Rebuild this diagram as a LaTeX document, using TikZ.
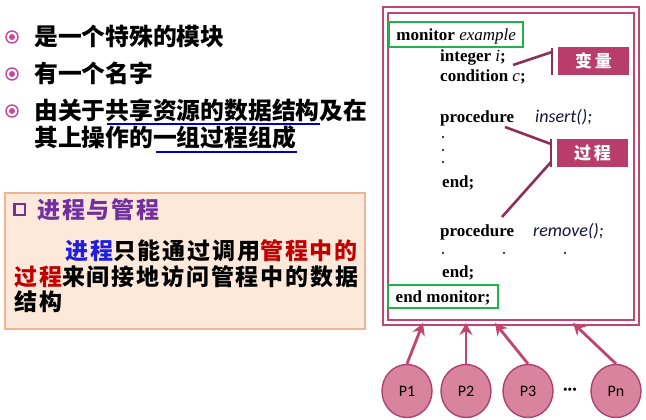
\documentclass[tikz,border=0pt]{standalone}
\usepackage{fontspec}
\setmainfont{Liberation Serif}
\newfontfamily\cjk{Noto Sans CJK SC}
\newfontfamily\cjkbox[LetterSpace=8]{Noto Sans CJK SC}
\newfontfamily\cjklab[LetterSpace=15]{Noto Sans CJK SC}
\newfontfamily\calib{Carlito}
\usetikzlibrary{arrows.meta,shapes.geometric}
\definecolor{bulletc}{HTML}{C8469B}
\definecolor{ulblue}{HTML}{0000C0}
\definecolor{peach}{HTML}{FDE9DA}
\definecolor{peachedge}{HTML}{F0B495}
\definecolor{purp}{HTML}{7030A0}
\definecolor{cblue}{HTML}{1E1EDC}
\definecolor{cred}{HTML}{C00000}
\definecolor{framec}{HTML}{C0456F}
\definecolor{grn}{HTML}{22B14C}
\definecolor{labfill}{HTML}{B83D6A}
\definecolor{brkc}{HTML}{8E2F57}
\definecolor{navy}{HTML}{14143C}
\definecolor{ellfill}{HTML}{D8849F}
\definecolor{elledge}{HTML}{B04070}
\begin{document}
\begin{tikzpicture}[x=1pt,y=-1pt,
  cjkbig/.style={font=\cjk\bfseries\fontsize{23.8}{28}\selectfont, anchor=west, inner sep=0},
  boxtxt/.style={font=\cjkbox\bfseries\fontsize{23}{26}\selectfont, anchor=west, inner sep=0},
  bul/.style={circle, draw=bulletc, line width=1.4, minimum size=12, inner sep=0,
    path picture={\fill[bulletc] (path picture bounding box.center) circle (3);}},
  code/.style={font=\bfseries\fontsize{17}{20}\selectfont, anchor=base west, inner sep=0},
  proc/.style={font=\calib\itshape\fontsize{18}{20}\selectfont, text=navy, anchor=base west, inner sep=0},
  greenbox/.style={draw=grn, line width=2.4, font=\bfseries\fontsize{17}{20}\selectfont, inner sep=0, text height=12.5, text depth=0},
  lab/.style={fill=labfill, text=white, font=\cjklab\bfseries\fontsize{17}{20}\selectfont, minimum width=71, minimum height=28, inner sep=0},
  brk/.style={draw=brkc, line width=2.6},
  frame/.style={draw=framec, line width=1.8},
  proc node/.style={ellipse, fill=ellfill, draw=elledge, line width=1.4, minimum width=50, minimum height=53, inner sep=0, font=\calib\fontsize{16}{18}\selectfont},
  arr/.style={draw=framec, line width=2.8, -{Stealth[length=12,width=13,inset=4]}},
  codedot/.style={circle, fill=black, minimum size=2.3, inner sep=0}
]
\useasboundingbox (0,0) rectangle (646,420);
\fill[white] (0,0) rectangle (646,420);

% ---- left bullet list
\node[bul] (b1) at (12,37) {};
\node[bul] (b2) at (12,74) {};
\node[bul] (b3) at (12,111) {};
\node[cjkbig] (t1) at (34,36) {是一个特殊的模块};
\node[cjkbig] (t2) at (34,73) {有一个名字};
\node[cjkbig] (t3) at (34,110) {由关于共享资源的数据结构及在};
\node[cjkbig] (t4) at (34,137) {其上操作的一组过程组成};
\draw[ulblue, line width=2] (107,124.5) -- (320,124.5);
\draw[ulblue, line width=2] (156,151.5) -- (297,151.5);

% ---- peach box
\draw[fill=peach, draw=peachedge, line width=1.5] (5,193) rectangle (365,329);
\draw[purp, line width=2.8] (14.5,204) rectangle (25,215);
\node[boxtxt, text=purp] (ttl) at (37,210) {进程与管程};
\node[boxtxt] (l1) at (65,251) {\textcolor{cblue}{进程}只能通过调用\textcolor{cred}{管程中的}};
\node[boxtxt] (l2) at (14,277) {\textcolor{cred}{过程}来间接地访问管程中的数据};
\node[boxtxt] (l3) at (14,302) {结构};

% ---- monitor frame
\draw[frame] (383,7) rectangle (639,325);
\draw[frame] (388,13) rectangle (634,320);

\node[greenbox, anchor=north west, minimum width=134, minimum height=25] (mon) at (388,21)
  {monitor \textit{\mdseries example}};
\node[code] (v1) at (440,62) {integer \textit{\mdseries i};};
\node[code] (v2) at (440,82) {condition \textit{\mdseries c};};
\node[code] (p1) at (440,123) {procedure};
\node[proc] (n1) at (535,123) {insert();};
\node[codedot] (d1) at (443,137) {};
\node[codedot] (d2) at (443,150) {};
\node[codedot] (d3) at (443,162) {};
\node[code] (e1) at (442,187) {end;};
\node[code] (p2) at (440,236) {procedure};
\node[proc] (n2) at (533,236) {remove();};
\node[codedot] (d4) at (443,253) {};
\node[codedot] (d5) at (504,253) {};
\node[codedot] (d6) at (565,253) {};
\node[code] (e2) at (442,277) {end;};
\node[greenbox, anchor=north west, minimum width=110, minimum height=23] (endmon) at (387,284)
  {end monitor;};

% ---- labels with brackets
\node[lab] (var) at (593.5,61) {变量};
\node[lab] (prc) at (592.5,153) {过程};
\coordinate (k1t) at (552,48);
\coordinate (k1b) at (552,75);
\coordinate (k1) at (552,52);
\coordinate (c1) at (513,65);
\draw[brk] (k1t) -- (k1b);
\draw[brk] (c1) -- (k1);
\coordinate (k2t) at (551,139);
\coordinate (k2b) at (551,167);
\coordinate (k2) at (551,144);
\coordinate (k3) at (551,162);
\coordinate (c2) at (505,127);
\coordinate (c3) at (502,217);
\draw[brk] (k2t) -- (k2b);
\draw[brk] (c2) -- (k2);
\draw[brk] (k3) -- (c3);

% ---- processes
\node[proc node] (P1) at (407,391) {P1};
\node[proc node] (P2) at (466,391) {P2};
\node[proc node] (P3) at (528,391) {P3};
\node[proc node] (Pn) at (616,391) {Pn};
\node[font=\calib\bfseries\fontsize{17}{18}\selectfont, inner sep=0] (dots) at (570,391) {···};
\coordinate (a1) at (423,323);
\coordinate (a2) at (466,323);
\coordinate (a3) at (495,323);
\coordinate (a4) at (573,323);
\draw[arr] (P1.north) -- (a1);
\draw[arr] (P2.north) -- (a2);
\draw[arr] (P3.north) -- (a3);
\draw[arr] (Pn.north) -- (a4);
\end{tikzpicture}
\end{document}
